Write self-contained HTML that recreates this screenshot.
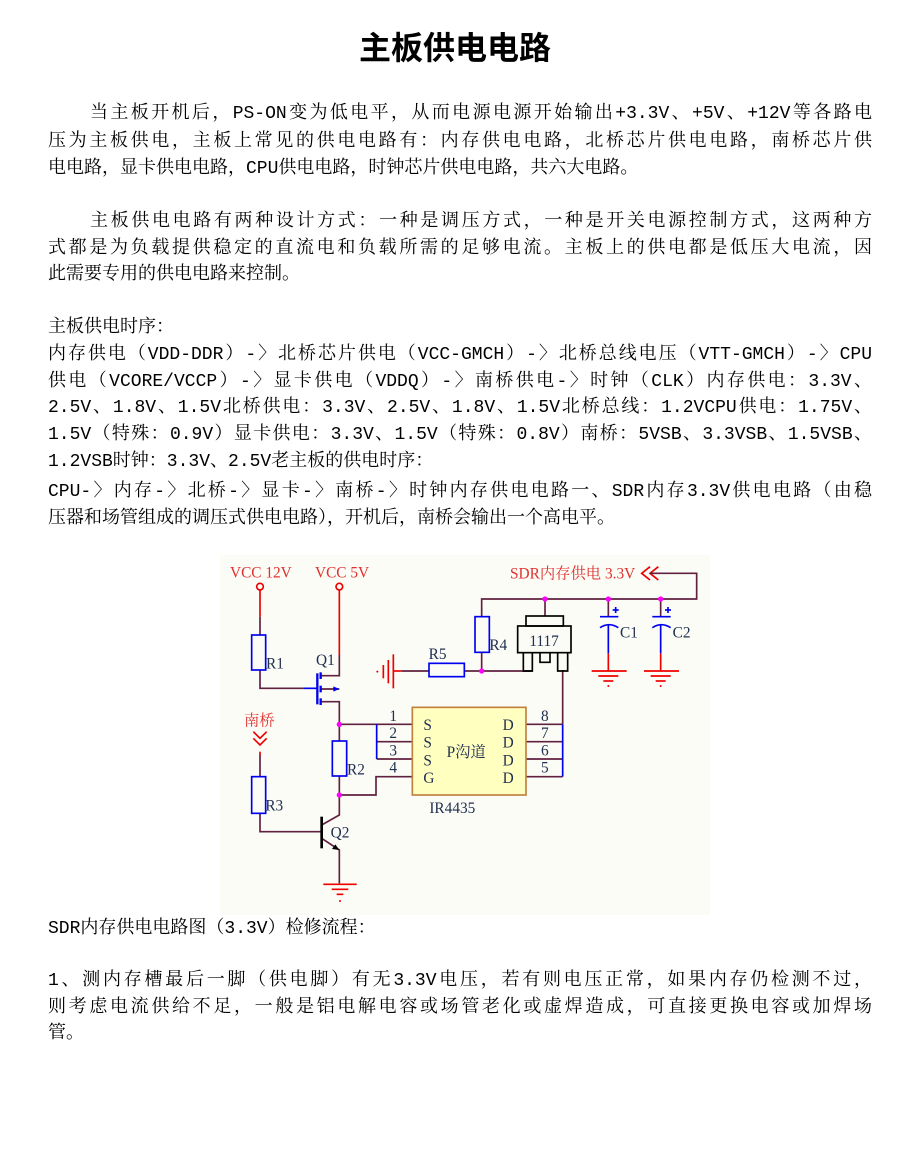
<!DOCTYPE html>
<html><head><meta charset="utf-8"><style>
body{margin:0;background:#fff;width:920px;height:1168px;position:relative;overflow:hidden}
.t{position:absolute;left:359px;top:23px;font:bold 32px "Liberation Sans","Noto Sans CJK SC",sans-serif;color:#000;white-space:nowrap}
.l{position:absolute;left:48px;width:824px;font:18px "Liberation Mono","Noto Serif CJK SC",serif;color:#000;white-space:nowrap;line-height:22px}
.j{text-align:justify;text-align-last:justify;white-space:normal}
</style></head><body>
<div class="t">主板供电电路</div>
<div class="l j" style="top:103px;left:90px;width:782px">当主板开机后，PS-ON变为低电平，从而电源电源开始输出+3.3V、+5V、+12V等各路电</div>
<div class="l j" style="top:131px">压为主板供电，主板上常见的供电电路有：内存供电电路，北桥芯片供电电路，南桥芯片供</div>
<div class="l" style="top:158px">电电路，显卡供电电路，CPU供电电路，时钟芯片供电电路，共六大电路。</div>
<div class="l j" style="top:211px;left:90px;width:782px">主板供电电路有两种设计方式：一种是调压方式，一种是开关电源控制方式，这两种方</div>
<div class="l j" style="top:238px">式都是为负载提供稳定的直流电和负载所需的足够电流。主板上的供电都是低压大电流，因</div>
<div class="l" style="top:264px">此需要专用的供电电路来控制。</div>
<div class="l" style="top:317px">主板供电时序：</div>
<div class="l j" style="top:344px">内存供电（VDD-DDR）-〉北桥芯片供电（VCC-GMCH）-〉北桥总线电压（VTT-GMCH）-〉CPU</div>
<div class="l j" style="top:371px">供电（VCORE/VCCP）-〉显卡供电（VDDQ）-〉南桥供电-〉时钟（CLK）内存供电：3.3V、</div>
<div class="l j" style="top:397px">2.5V、1.8V、1.5V北桥供电：3.3V、2.5V、1.8V、1.5V北桥总线：1.2VCPU供电：1.75V、</div>
<div class="l j" style="top:424px">1.5V（特殊：0.9V）显卡供电：3.3V、1.5V（特殊：0.8V）南桥：5VSB、3.3VSB、1.5VSB、</div>
<div class="l" style="top:451px">1.2VSB时钟：3.3V、2.5V老主板的供电时序：</div>
<div class="l j" style="top:481px">CPU-〉内存-〉北桥-〉显卡-〉南桥-〉时钟内存供电电路一、SDR内存3.3V供电电路（由稳</div>
<div class="l" style="top:508px">压器和场管组成的调压式供电电路），开机后，南桥会输出一个高电平。</div>
<div class="l" style="top:918px">SDR内存供电电路图（3.3V）检修流程：</div>
<div class="l j" style="top:970px">1、测内存槽最后一脚（供电脚）有无3.3V电压，若有则电压正常，如果内存仍检测不过，</div>
<div class="l j" style="top:997px">则考虑电流供给不足，一般是铝电解电容或场管老化或虚焊造成，可直接更换电容或加焊场</div>
<div class="l" style="top:1023px">管。</div>

<svg style="position:absolute;left:220px;top:555px" width="490" height="360" viewBox="0 0 1470 1080">
<rect x="0" y="0" width="1470" height="1080" fill="#fcfcf6"/>
<g fill="none" stroke-width="5">
<g stroke="#e00">
<line x1="120" y1="105" x2="120" y2="185"/><line x1="358" y1="105" x2="358" y2="300"/>
<line x1="120" y1="590" x2="120" y2="600"/>
<line x1="310" y1="988" x2="410" y2="988"/><line x1="335" y1="1003" x2="385" y2="1003"/><line x1="350" y1="1018" x2="370" y2="1018"/>
<line x1="520" y1="348" x2="545" y2="348"/><line x1="520" y1="298" x2="520" y2="400"/><line x1="505" y1="315" x2="505" y2="385"/><line x1="490" y1="330" x2="490" y2="370"/>
<line x1="1165" y1="295" x2="1165" y2="348"/><line x1="1115" y1="348" x2="1220" y2="348"/><line x1="1135" y1="363" x2="1195" y2="363"/><line x1="1150" y1="378" x2="1180" y2="378"/>
<line x1="1322" y1="295" x2="1322" y2="348"/><line x1="1272" y1="348" x2="1377" y2="348"/><line x1="1292" y1="363" x2="1352" y2="363"/><line x1="1307" y1="378" x2="1337" y2="378"/>
<polyline points="100,530 120,550 140,530"/><polyline points="100,550 120,570 140,550"/>
<polyline points="1290,35 1265,55 1290,75"/><polyline points="1315,35 1290,55 1315,75"/>
<circle cx="120" cy="95" r="10"/><circle cx="358" cy="95" r="10"/>
</g>
<g stroke="#602040">
<polyline points="120,185 120,240"/><polyline points="120,345 120,400 250,400"/>
<polyline points="358,300 358,362 300,362"/><polyline points="300,440 358,440 358,508"/><line x1="300" y1="402" x2="358" y2="402"/>
<polyline points="358,508 575,508"/><line x1="470" y1="560" x2="575" y2="560"/><line x1="470" y1="612" x2="575" y2="612"/>
<polyline points="358,508 358,558"/><polyline points="358,663 358,720 468,720 468,665 575,665"/>
<line x1="918" y1="508" x2="1028" y2="508"/><line x1="918" y1="560" x2="1028" y2="560"/><line x1="918" y1="612" x2="1028" y2="612"/><line x1="918" y1="665" x2="1028" y2="665"/>
<polyline points="1028,345 1028,508"/>
<polyline points="120,600 120,665"/><polyline points="120,775 120,830 305,830"/>
<polyline points="305,810 358,780 358,720"/><polyline points="305,850 358,885 358,985"/>
<polyline points="1290,55 1430,55 1430,132 785,132 785,185"/><polyline points="785,292 785,348 937,348"/>
<polyline points="545,348 627,348"/><line x1="733" y1="348" x2="785" y2="348"/>
<line x1="975" y1="132" x2="975" y2="183"/>
<line x1="1165" y1="132" x2="1165" y2="185"/><line x1="1322" y1="132" x2="1322" y2="185"/>
</g>
<g stroke="#0000f0">
<rect x="95" y="240" width="42" height="105"/><rect x="337" y="558" width="43" height="105"/><rect x="95" y="665" width="42" height="110"/>
<rect x="765" y="185" width="43" height="107"/><rect x="627" y="325" width="106" height="40"/>
<line x1="250" y1="400" x2="290" y2="400"/><line x1="292" y1="355" x2="292" y2="448" stroke-width="7"/>
<line x1="302" y1="352" x2="302" y2="372" stroke-width="7"/><line x1="302" y1="392" x2="302" y2="412" stroke-width="7"/><line x1="302" y1="430" x2="302" y2="450" stroke-width="7"/>
<line x1="470" y1="508" x2="470" y2="612"/><line x1="1028" y1="508" x2="1028" y2="665"/>
<line x1="1140" y1="185" x2="1195" y2="185"/><path d="M1140 218 Q1167 200 1195 218"/><line x1="1165" y1="210" x2="1165" y2="295"/>
<line x1="1297" y1="185" x2="1352" y2="185"/><path d="M1297 218 Q1324 200 1352 218"/><line x1="1322" y1="210" x2="1322" y2="295"/>
<line x1="1178" y1="165" x2="1196" y2="165"/><line x1="1187" y1="156" x2="1187" y2="174"/>
<line x1="1335" y1="165" x2="1353" y2="165"/><line x1="1344" y1="156" x2="1344" y2="174"/>
</g>
<line x1="305" y1="785" x2="305" y2="880" stroke="#000" stroke-width="8"/>
<g stroke="#000"><rect x="918" y="183" width="112" height="30"/><rect x="893" y="213" width="160" height="80"/>
<polyline points="910,293 910,348 937,348 937,293"/><polyline points="960,293 960,322 990,322 990,293"/><polyline points="1013,293 1013,348 1043,348 1043,293"/></g>
<rect x="577" y="457" width="341" height="263" fill="#ffffc0" stroke="#c08040"/>
</g>
<polygon points="358,402 340,394 340,410" fill="#0000f0"/>
<polygon points="358,885 336,882 346,868" fill="#000"/>
<g fill="#f0f"><circle cx="358" cy="508" r="8"/><circle cx="358" cy="720" r="8"/><circle cx="785" cy="348" r="8"/><circle cx="975" cy="132" r="8"/><circle cx="1165" cy="132" r="8"/><circle cx="1322" cy="132" r="8"/></g>
<g fill="#e00"><circle cx="360" cy="1038" r="3"/><circle cx="472" cy="350" r="3"/><circle cx="1165" cy="393" r="3"/><circle cx="1322" cy="393" r="3"/></g>
<g font-family="Liberation Serif,Noto Serif CJK SC,serif" font-size="46">
<g fill="#e03030"><text x="30" y="68">VCC 12V</text><text x="285" y="68">VCC 5V</text><text x="870" y="70">SDR内存供电 3.3V</text><text x="72" y="512">南桥</text></g>
<g fill="#203050"><text x="138" y="340">R1</text><text x="288" y="330">Q1</text><text x="381" y="658">R2</text><text x="136" y="767">R3</text><text x="332" y="847">Q2</text>
<text x="626" y="312">R5</text><text x="808" y="285">R4</text><text x="928" y="273">1117</text><text x="1200" y="247">C1</text><text x="1358" y="247">C2</text>
<text x="508" y="498">1</text><text x="508" y="549">2</text><text x="508" y="601">3</text><text x="508" y="653">4</text>
<text x="963" y="498">8</text><text x="963" y="549">7</text><text x="963" y="601">6</text><text x="963" y="653">5</text>
<text x="610" y="525">S</text><text x="610" y="578">S</text><text x="610" y="631">S</text><text x="610" y="684">G</text>
<text x="848" y="525">D</text><text x="848" y="578">D</text><text x="848" y="631">D</text><text x="848" y="684">D</text>
<text x="680" y="606">P沟道</text><text x="628" y="774">IR4435</text></g></g>
</svg>
</body></html>
